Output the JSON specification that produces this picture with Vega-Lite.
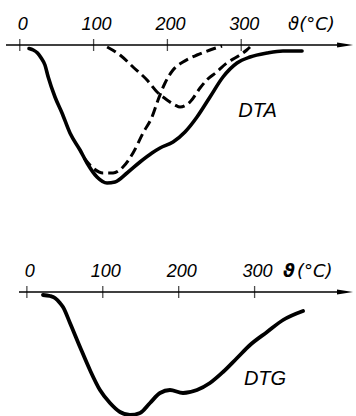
{
  "$schema": "https://vega.github.io/schema/vega-lite/v6.json",
  "width": 356,
  "height": 416,
  "autosize": {"type": "none"},
  "padding": 0,
  "background": "white",
  "config": {"view": {"stroke": null}},
  "datasets": {
    "dtaSolid": [
      {"t": 12.5, "v": -0.35}, {"t": 18.2, "v": -0.5}, {"t": 24.0, "v": -0.8}, {"t": 29.0, "v": -1.3}, {"t": 34.1, "v": -2.0},
      {"t": 38.5, "v": -3.2}, {"t": 47.7, "v": -5.2}, {"t": 57.2, "v": -6.8}, {"t": 68.0, "v": -8.8},
      {"t": 81.6, "v": -10.5}, {"t": 91.1, "v": -11.8}, {"t": 104.6, "v": -13.2}, {"t": 118.2, "v": -13.8},
      {"t": 129.0, "v": -13.7}, {"t": 145.3, "v": -12.8}, {"t": 162.9, "v": -11.7}, {"t": 179.1, "v": -10.8},
      {"t": 190.0, "v": -10.3}, {"t": 207.6, "v": -9.7}, {"t": 223.8, "v": -8.7}, {"t": 240.1, "v": -7.2},
      {"t": 257.7, "v": -5.2}, {"t": 275.3, "v": -3.2}, {"t": 294.3, "v": -1.8}, {"t": 311.9, "v": -1.2},
      {"t": 335.0, "v": -0.8}, {"t": 356.6, "v": -0.6}, {"t": 382.4, "v": -0.6}
    ],
    "dtaDash1": [
      {"t": 118.3, "v": -0.2}, {"t": 135.8, "v": -1.0}, {"t": 153.4, "v": -2.2}, {"t": 172.4, "v": -3.5},
      {"t": 186.0, "v": -4.7}, {"t": 199.5, "v": -5.5}, {"t": 210.3, "v": -6.0}, {"t": 217.1, "v": -6.2},
      {"t": 230.6, "v": -5.7}, {"t": 244.2, "v": -4.3}, {"t": 253.3, "v": -3.5}, {"t": 266.8, "v": -2.7},
      {"t": 280.4, "v": -1.8}, {"t": 293.9, "v": -1.2}, {"t": 307.5, "v": -0.5}, {"t": 311.9, "v": -0.2}
    ],
    "dtaDash2": [
      {"t": 87.0, "v": -11.3}, {"t": 99.2, "v": -12.3}, {"t": 112.7, "v": -12.8}, {"t": 126.3, "v": -12.8},
      {"t": 139.8, "v": -12.2}, {"t": 153.4, "v": -10.8}, {"t": 167.0, "v": -8.8}, {"t": 179.1, "v": -7.2},
      {"t": 187.3, "v": -5.5}, {"t": 196.8, "v": -3.8}, {"t": 207.6, "v": -2.5}, {"t": 221.1, "v": -1.7},
      {"t": 240.1, "v": -1.0}, {"t": 257.7, "v": -0.5}, {"t": 274.0, "v": -0.1}
    ],
    "dtg": [
      {"t": 21.2, "v": -0.3}, {"t": 30.4, "v": -0.4}, {"t": 37.0, "v": -0.6}, {"t": 43.6, "v": -1.1},
      {"t": 47.6, "v": -1.5}, {"t": 56.8, "v": -3.1}, {"t": 70.0, "v": -5.5}, {"t": 83.1, "v": -7.8},
      {"t": 96.3, "v": -9.8}, {"t": 109.5, "v": -11.1}, {"t": 122.7, "v": -12.0}, {"t": 135.8, "v": -12.3},
      {"t": 149.0, "v": -12.1}, {"t": 162.2, "v": -11.1}, {"t": 175.4, "v": -10.1}, {"t": 188.5, "v": -9.8},
      {"t": 205.7, "v": -10.1}, {"t": 224.1, "v": -9.8}, {"t": 241.2, "v": -9.1}, {"t": 258.4, "v": -8.0},
      {"t": 276.9, "v": -6.6}, {"t": 294.0, "v": -5.3}, {"t": 316.4, "v": -4.0}, {"t": 337.5, "v": -2.8},
      {"t": 363.8, "v": -1.9}
    ],
    "ticks": [
      {"t": 0, "v": 0, "lab": "0"}, {"t": 100, "v": 0, "lab": "100"},
      {"t": 200, "v": 0, "lab": "200"}, {"t": 300, "v": 0, "lab": "300"}
    ]
  },
  "layer": [
    {
      "encoding": {
        "x": {"field": "t", "type": "quantitative", "scale": {"domain": [-26.8, 455.5], "nice": false, "zero": false}, "axis": null},
        "y": {"field": "v", "type": "quantitative", "scale": {"domain": [-37.1, 4.5], "nice": false, "zero": false}, "axis": null}
      },
      "layer": [
        {
          "data": {"values": [{"t": -18.7, "t2": 440, "v": 0}]},
          "mark": {"type": "rule", "color": "black", "strokeWidth": 1.5},
          "encoding": {"x2": {"field": "t2"}}
        },
        {
          "data": {"values": [{"t": 440.7, "v": 0}]},
          "mark": {"type": "point", "shape": "M-1,-0.3L1,0L-1,0.3Z", "filled": true, "color": "black", "size": 256, "opacity": 1}
        },
        {
          "data": {"name": "ticks"},
          "mark": {"type": "tick", "orient": "vertical", "color": "black", "size": 12, "thickness": 1.3}
        },
        {
          "data": {"name": "ticks"},
          "mark": {"type": "text", "font": "Liberation Sans", "fontStyle": "italic", "fontSize": 18, "dy": -15, "dx": 3, "baseline": "alphabetic", "align": "center", "color": "black"},
          "encoding": {"text": {"field": "lab"}}
        },
        {
          "data": {"values": [{"t": 363.4, "v": 0, "lab": "ϑ(°C)"}]},
          "mark": {"type": "text", "font": "DejaVu Sans", "fontStyle": "italic", "fontSize": 18, "dy": -15, "baseline": "alphabetic", "align": "left", "color": "black"},
          "encoding": {"text": {"field": "lab"}}
        },
        {
          "data": {"values": [{"t": 322.1, "v": -7.2, "lab": "DTA"}]},
          "mark": {"type": "text", "font": "Liberation Sans", "fontStyle": "italic", "fontSize": 20, "baseline": "alphabetic", "align": "center", "color": "black"},
          "encoding": {"text": {"field": "lab"}}
        },
        {
          "data": {"name": "dtaDash1"},
          "mark": {"type": "line", "interpolate": "monotone", "color": "black", "strokeWidth": 3, "strokeDash": [10, 5]}
        },
        {
          "data": {"name": "dtaDash2"},
          "mark": {"type": "line", "interpolate": "monotone", "color": "black", "strokeWidth": 3, "strokeDash": [10, 5]}
        },
        {
          "data": {"name": "dtaSolid"},
          "mark": {"type": "line", "interpolate": "monotone", "color": "black", "strokeWidth": 3.6, "strokeCap": "round"}
        }
      ]
    },
    {
      "encoding": {
        "x": {"field": "t", "type": "quantitative", "scale": {"domain": [-35.4, 433.6], "nice": false, "zero": false}, "axis": null},
        "y": {"field": "v", "type": "quantitative", "scale": {"domain": [-12.4, 29.2], "nice": false, "zero": false}, "axis": null}
      },
      "layer": [
        {
          "data": {"values": [{"t": -10.4, "t2": 419, "v": 0}]},
          "mark": {"type": "rule", "color": "black", "strokeWidth": 1.5},
          "encoding": {"x2": {"field": "t2"}}
        },
        {
          "data": {"values": [{"t": 419.1, "v": 0}]},
          "mark": {"type": "point", "shape": "M-1,-0.3L1,0L-1,0.3Z", "filled": true, "color": "black", "size": 256, "opacity": 1}
        },
        {
          "data": {"name": "ticks"},
          "mark": {"type": "tick", "orient": "vertical", "color": "black", "size": 12, "thickness": 1.3}
        },
        {
          "data": {"name": "ticks"},
          "mark": {"type": "text", "font": "Liberation Sans", "fontStyle": "italic", "fontSize": 18, "dy": -15, "dx": 3, "baseline": "alphabetic", "align": "center", "color": "black"},
          "encoding": {"text": {"field": "lab"}}
        },
        {
          "data": {"values": [{"t": 337.4, "v": 0, "lab": "ϑ"}]},
          "mark": {"type": "text", "font": "DejaVu Sans", "fontStyle": "italic", "fontWeight": "bold", "fontSize": 18, "dy": -15, "baseline": "alphabetic", "align": "left", "color": "black"},
          "encoding": {"text": {"field": "lab"}}
        },
        {
          "data": {"values": [{"t": 355.9, "v": 0, "lab": "(°C)"}]},
          "mark": {"type": "text", "font": "DejaVu Sans", "fontStyle": "italic", "fontSize": 18, "dy": -15, "baseline": "alphabetic", "align": "left", "color": "black"},
          "encoding": {"text": {"field": "lab"}}
        },
        {
          "data": {"values": [{"t": 313.7, "v": -9.3, "lab": "DTG"}]},
          "mark": {"type": "text", "font": "Liberation Sans", "fontStyle": "italic", "fontSize": 20, "baseline": "alphabetic", "align": "center", "color": "black"},
          "encoding": {"text": {"field": "lab"}}
        },
        {
          "data": {"name": "dtg"},
          "mark": {"type": "line", "interpolate": "monotone", "color": "black", "strokeWidth": 3.8, "strokeCap": "round"}
        }
      ]
    }
  ],
  "resolve": {"scale": {"x": "independent", "y": "independent"}}
}
